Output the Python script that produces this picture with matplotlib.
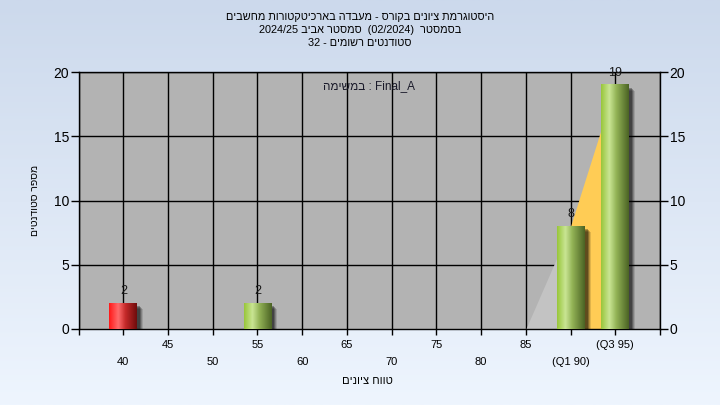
import re
import numpy as np
import matplotlib
matplotlib.use("Agg")
import matplotlib.pyplot as plt
from matplotlib.colors import LinearSegmentedColormap
from matplotlib.patches import Rectangle

# data
grades = [40, 45, 50, 55, 60, 65, 70, 75, 80, 85, 90, 95]
counts = [2, 0, 0, 2, 0, 0, 0, 0, 0, 0, 8, 19]
tick_labels = ['40', '45', '50', '55', '60', '65', '70', '75', '80', '85', '(Q1 90)', '(Q3 95)']
failing = [40]
# quartile area (85 -> Q1 -> Q3)
area_grades = [85, 90, 95]
area_counts = [0, 8, 19]

title_lines = [
    'היסטוגרמת ציונים בקורס - מעבדה בארכיטקטורות מחשבים',
    'בסמסטר  (02/2024)  סמסטר אביב 2024/25',
    'סטודנטים רשומים - 32',
]
task_text = 'Final_A : במשימה'
ylabel = 'מספר סטודנטים'
xlabel = 'טווח ציונים'


def visual(s):
    # crude bidi: reverse for RTL, keep latin/number runs in order, mirror parens
    rev = s[::-1]
    rev = re.sub(r'[0-9A-Za-z_/.]+', lambda m: m.group(0)[::-1], rev)
    return rev.translate(str.maketrans('()', ')('))


plt.rcParams['font.family'] = ['Liberation Sans', 'DejaVu Sans']

fig = plt.figure(figsize=(7.2, 4.05), dpi=100)

# background gradient
bg = fig.add_axes([0, 0, 1, 1], zorder=-10)
bg_cmap = LinearSegmentedColormap.from_list('bg', ['#ccd9ec', '#eef5fe'])
bg.imshow(np.linspace(0, 1, 256).reshape(-1, 1), cmap=bg_cmap, aspect='auto',
          extent=(0, 1, 0, 1), origin='upper')
bg.axis('off')

ax = fig.add_axes([78.6 / 720, 76 / 405, 581.4 / 720, 257 / 405])
ax.set_facecolor('#b3b3b3')

idx = {g: i for i, g in enumerate(grades)}

# grid
for i in range(-1, 13):
    ax.axvline(i, color='black', lw=1, zorder=1)
for v in [5, 10, 15, 20]:
    ax.axhline(v, color='black', lw=1, zorder=1)

# quartile area
ax_x = [idx[g] for g in area_grades]
ax.fill_between(ax_x[:2], area_counts[:2], 0, color='#c3c3c3', lw=0, zorder=2)
ax.fill_between(ax_x[1:], area_counts[1:], 0, color='#ffcc55', lw=0, zorder=2)

green = LinearSegmentedColormap.from_list(
    'g', [(0, '#98c63a'), (0.3, '#c9e594'), (0.55, '#93b356'), (1.0, '#4b6324')])
red = LinearSegmentedColormap.from_list(
    'r', [(0, '#ff1818'), (0.33, '#ff6b6b'), (0.6, '#c32828'), (1.0, '#6e0c0c')])

w = 0.625
px = 44.7  # pixels per category
grad = np.linspace(0, 1, 128).reshape(1, -1)
for g, c in zip(grades, counts):
    if c == 0:
        continue
    x = idx[g]
    # soft shadow
    for k, a in [(6, 0.12), (5, 0.18), (4, 0.25), (3, 0.3)]:
        ax.add_patch(Rectangle((x - w / 2 + k / px, 0), w, c - k * 20 / 257,
                               color='black', alpha=a, lw=0, zorder=3))
    cmap = red if g in failing else green
    ax.imshow(grad, cmap=cmap, aspect='auto', extent=(x - w / 2, x + w / 2, 0, c),
              zorder=4, interpolation='bilinear')
    ax.annotate(str(c), (x, c), xytext=(0, 8.5), textcoords='offset points',
                ha='center', va='center', fontsize=9, color='#1a1a1a', zorder=6)

ax.set_xlim(-1, 12)
ax.set_ylim(0, 20)
ax.set_yticks([0, 5, 10, 15, 20])
ax.set_xticks(range(-1, 13))
ax.set_xticklabels([])
ax.tick_params(axis='y', left=True, right=True, labelleft=True, labelright=True,
               direction='out', length=5.5, width=1, pad=1.5, labelsize=10)
ax.tick_params(axis='x', direction='out', length=4, width=1)
for s in ax.spines.values():
    s.set_color('black')
    s.set_linewidth(1)

# staggered category labels
tr = ax.get_xaxis_transform()
for i, lab in enumerate(tick_labels):
    y = -0.062 if i % 2 else -0.128
    ax.text(i, y, lab, transform=tr, ha='center', va='center', fontsize=8)

ax.text(0.5, 0.947, visual(task_text), transform=ax.transAxes, ha='center',
        va='center', fontsize=8.5, color='#1a1a2a', zorder=7)

fig.text(34.5 / 720, 1 - 200 / 405, visual(ylabel), rotation=90, ha='center',
         va='center', fontsize=7.5)
fig.text(367 / 720, 1 - 381 / 405, visual(xlabel), ha='center', va='center', fontsize=8)

for yy, line in zip([17, 30, 42.5], title_lines):
    fig.text(360 / 720, 1 - yy / 405, visual(line), ha='center', va='center', fontsize=7.8)

fig.savefig('out.png', dpi=100)
